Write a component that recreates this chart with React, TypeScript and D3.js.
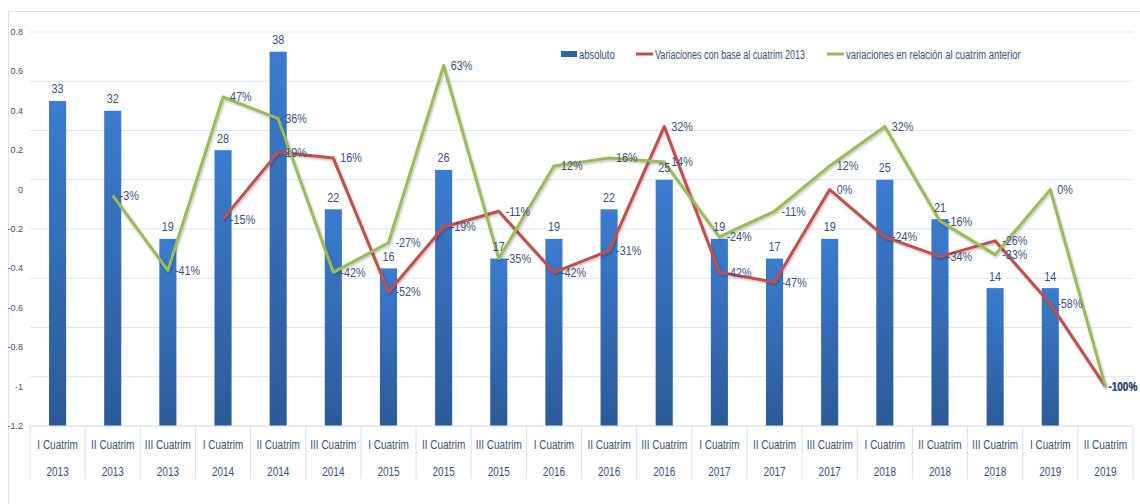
import React from "react";
import * as d3 from "d3";

const categories = [
  "I Cuatrim", "II Cuatrim", "III Cuatrim", "I Cuatrim", "II Cuatrim", "III Cuatrim",
  "I Cuatrim", "II Cuatrim", "III Cuatrim", "I Cuatrim", "II Cuatrim", "III Cuatrim",
  "I Cuatrim", "II Cuatrim", "III Cuatrim", "I Cuatrim", "II Cuatrim", "III Cuatrim",
  "I Cuatrim", "II Cuatrim",
];
const years = [
  "2013", "2013", "2013", "2014", "2014", "2014", "2015", "2015", "2015", "2016",
  "2016", "2016", "2017", "2017", "2017", "2018", "2018", "2018", "2019", "2019",
];
const absoluto: (number | null)[] = [33, 32, 19, 28, 38, 22, 16, 26, 17, 19, 22, 25, 19, 17, 19, 25, 21, 14, 14, null];
const variacionBase: (number | null)[] = [null, null, null, -0.15, 0.19, 0.16, -0.52, -0.19, -0.11, -0.42, -0.31, 0.32, -0.42, -0.47, 0, -0.24, -0.34, -0.26, -0.58, -1.0];
const variacionAnterior: (number | null)[] = [null, -0.03, -0.41, 0.47, 0.36, -0.42, -0.27, 0.63, -0.35, 0.12, 0.16, 0.14, -0.24, -0.11, 0.12, 0.32, -0.16, -0.33, 0, -1.0];
const leftTicks = [0.8, 0.6, 0.4, 0.2, 0, -0.2, -0.4, -0.6, -0.8, -1, -1.2];
const rightTicks = [0, 5, 10, 15, 20, 25, 30, 35, 40];
const legendLabels = ["absoluto", "Variaciones con base al cuatrim 2013", "variaciones en relación al cuatrim anterior"];

const W = 1140, H = 504;
const X0 = 30, X1 = 1133, Y0 = 32, Y1 = 426;
const FONT = "'Liberation Sans', Arial, sans-serif";
const TXT = "#3b4f7a";
const GRID = "#dbe5f1";
const RED = "#c0504d";
const GREEN = "#9bbb59";
const SX = 0.8;

function T(props: { x: number; y: number; size: number; anchor?: string; children: React.ReactNode; sx?: number; weight?: number }) {
  const { x, y, size, anchor = "start", children, sx = SX, weight } = props;
  return (
    <text
      transform={`translate(${x},${y}) scale(${sx},1)`}
      textAnchor={anchor}
      dominantBaseline="central"
      fontSize={size}
      fontWeight={weight}
      fill={TXT}
    >
      {children}
    </text>
  );
}

export default function App() {
  const idx = categories.map((_, i) => String(i));
  const x = d3.scaleBand<string>().domain(idx).range([X0, X1]).padding(0);
  const yL = d3.scaleLinear().domain([-1.2, 0.8]).range([Y1, Y0]);
  const yR = d3.scaleLinear().domain([0, 40]).range([Y1, Y0]);
  const bw = x.bandwidth() * 0.31;
  const cx = (i: number) => (x(String(i)) as number) + x.bandwidth() / 2;

  const line = d3
    .line<number | null>()
    .defined((d) => d !== null)
    .x((_, i) => cx(i))
    .y((d) => yL(d as number));

  const fmt = (v: number) => `${Math.round(v * 100)}%`;
  const last = categories.length - 1;

  return (
    <svg width={W} height={H} style={{ position: "absolute", left: 0, top: 0, background: "#fff" }} fontFamily={FONT}>
      <defs>
        <linearGradient id="barGrad" x1="0" y1="0" x2="0" y2="1">
          <stop offset="0%" stopColor="#3b7cd0" />
          <stop offset="100%" stopColor="#2c5a97" />
        </linearGradient>
        <filter id="shadow" x="-5%" y="-5%" width="110%" height="110%">
          <feDropShadow dx="1" dy="1.5" stdDeviation="1" floodColor="#000" floodOpacity="0.25" />
        </filter>
      </defs>
      <rect x={8.5} y={11.5} width={W} height={H} fill="none" stroke="#d9e3f0" strokeWidth={1} />

      {rightTicks.map((t) => (
        <line key={t} x1={X0} x2={X1} y1={yR(t)} y2={yR(t)} stroke={GRID} strokeWidth={1.2} />
      ))}

      {leftTicks.map((t) => (
        <text key={t} x={23} y={yL(t)} textAnchor="end" dominantBaseline="central" fontSize={9} fill={TXT}>
          {String(Math.round(t * 10) / 10)}
        </text>
      ))}

      {absoluto.map((v, i) =>
        v === null ? null : (
          <rect key={i} x={cx(i) - bw / 2} y={yR(v)} width={bw} height={Y1 - yR(v)} fill="url(#barGrad)" />
        )
      )}

      <line x1={X0} x2={X1} y1={Y1} y2={Y1} stroke={GRID} strokeWidth={1.2} />
      {d3.range(categories.length + 1).map((i) => {
        const xx = i < categories.length ? (x(String(i)) as number) : X1;
        return <line key={i} x1={xx} x2={xx} y1={Y1} y2={479} stroke={GRID} strokeWidth={1.2} />;
      })}
      {categories.map((c, i) => (
        <g key={i}>
          <T x={cx(i)} y={445} size={12.5} anchor="middle">{c}</T>
          <T x={cx(i)} y={472} size={12.5} anchor="middle">{years[i]}</T>
        </g>
      ))}

      <path d={line(variacionBase) || ""} fill="none" stroke={RED} strokeWidth={3} strokeLinejoin="round" filter="url(#shadow)" />
      <path d={line(variacionAnterior) || ""} fill="none" stroke={GREEN} strokeWidth={3} strokeLinejoin="round" filter="url(#shadow)" />

      {absoluto.map((v, i) =>
        v === null ? null : (
          <T key={i} x={cx(i)} y={yR(v) - 12} size={13.5} anchor="middle">{v}</T>
        )
      )}

      {variacionBase.map((v, i) =>
        v === null ? null : (
          <T key={"r" + i} x={cx(i) + (i === last ? 3 : 7)} y={yL(v)} size={i === last ? 12.5 : 13.5} weight={i === last ? 700 : undefined}>{fmt(v)}</T>
        )
      )}
      {variacionAnterior.map((v, i) =>
        v === null ? null : (
          <T key={"g" + i} x={cx(i) + (i === last ? 3 : 7)} y={yL(v)} size={i === last ? 12.5 : 13.5} weight={i === last ? 700 : undefined}>{fmt(v)}</T>
        )
      )}

      <rect x={561} y={51} width={16} height={6} fill="#2f63a8" />
      <T x={579} y={54} size={13.5} sx={0.7}>{legendLabels[0]}</T>
      <line x1={636} x2={653} y1={54} y2={54} stroke={RED} strokeWidth={3} />
      <T x={655} y={54} size={13.5} sx={0.67}>{legendLabels[1]}</T>
      <line x1={827} x2={844} y1={54} y2={54} stroke={GREEN} strokeWidth={3} />
      <T x={846} y={54} size={13.5} sx={0.7}>{legendLabels[2]}</T>
    </svg>
  );
}
